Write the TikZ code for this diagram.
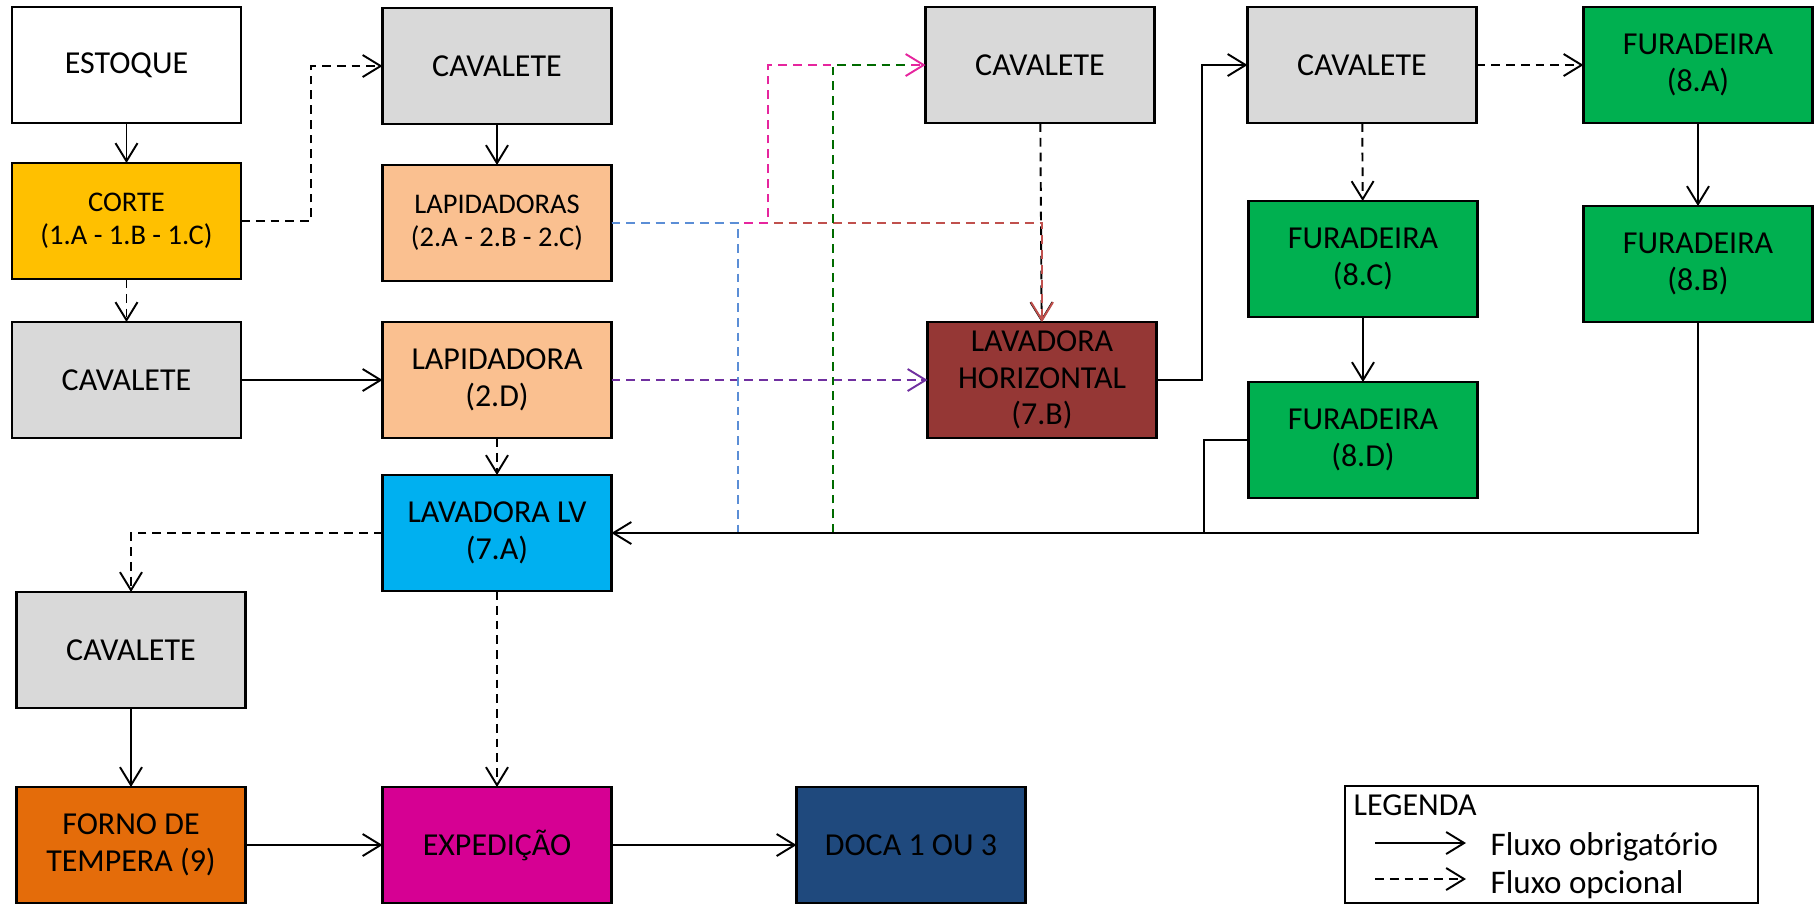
\documentclass[tikz,border=0pt]{standalone}
\usepackage{fontspec}
\setmainfont{Carlito}
\usetikzlibrary{arrows.meta}

\definecolor{cinza}{HTML}{D9D9D9}
\definecolor{ouro}{HTML}{FFC000}
\definecolor{pessego}{HTML}{FAC090}
\definecolor{vinho}{HTML}{953735}
\definecolor{ciano}{HTML}{00B0F0}
\definecolor{verdefur}{HTML}{00B050}
\definecolor{laranja}{HTML}{E46C0A}
\definecolor{magexp}{HTML}{D60093}
\definecolor{azuldoca}{HTML}{1F497D}
\definecolor{linrosa}{HTML}{E6259E}
\definecolor{linverde}{HTML}{006B00}
\definecolor{linazul}{HTML}{5B8ED6}
\definecolor{linverm}{HTML}{C0504D}
\definecolor{linroxo}{HTML}{7030A0}

\tikzset{
  caixa/.style={draw, line width=0.6pt, minimum width=2.29cm, minimum height=1.16cm,
    align=center, inner sep=1pt, outer sep=0pt, font=\fontsize{9.1}{10.4}\selectfont},
  caixap/.style={caixa, font=\fontsize{8.1}{9.4}\selectfont},
  obrig/.style={-{Straight Barb[length=1.8mm,width=2.2mm]}, line width=0.55pt},
  opc/.style={obrig, dash pattern=on 2.5pt off 1.7pt},
  linha/.style={line width=0.55pt},
  linhaopc/.style={line width=0.55pt, dash pattern=on 2.5pt off 1.7pt},
}

\begin{document}
\begin{tikzpicture}
    \useasboundingbox (0,0) rectangle (18.2,-9.05);

    % Caixas
    \node[caixa] (estoque) at (1.265,-0.65) {ESTOQUE};
    \node[caixap, fill=ouro] (corte) at (1.265,-2.21) {CORTE\\(1.A - 1.B - 1.C)};
    \node[caixa, fill=cinza] (cavA) at (1.265,-3.80) {CAVALETE};
    \node[caixa, fill=cinza] (cavB) at (4.97,-0.66) {CAVALETE};
    \node[caixap, fill=pessego] (lapidadoras) at (4.97,-2.23) {LAPIDADORAS\\(2.A - 2.B - 2.C)};
    \node[caixa, fill=pessego] (lapidadora) at (4.97,-3.80) {LAPIDADORA\\(2.D)};
    \node[caixa, fill=ciano] (lavLV) at (4.97,-5.33) {LAVADORA LV\\(7.A)};
    \node[caixa, fill=cinza] (cavE) at (1.31,-6.50) {CAVALETE};
    \node[caixa, fill=laranja] (forno) at (1.31,-8.45) {FORNO DE\\TEMPERA (9)};
    \node[caixa, fill=magexp] (expedicao) at (4.97,-8.45) {EXPEDIÇÃO};
    \node[caixa, fill=azuldoca] (doca) at (9.11,-8.45) {DOCA 1 OU 3};
    \node[caixa, fill=cinza] (cavC) at (10.40,-0.65) {CAVALETE};
    \node[caixa, fill=vinho] (lavH) at (10.42,-3.80) {LAVADORA\\HORIZONTAL\\(7.B)};
    \node[caixa, fill=cinza] (cavD) at (13.62,-0.65) {CAVALETE};
    \node[caixa, fill=verdefur] (fur8C) at (13.63,-2.59) {FURADEIRA\\(8.C)};
    \node[caixa, fill=verdefur] (fur8D) at (13.63,-4.40) {FURADEIRA\\(8.D)};
    \node[caixa, fill=verdefur] (fur8A) at (16.98,-0.65) {FURADEIRA\\(8.A)};
    \node[caixa, fill=verdefur] (fur8B) at (16.98,-2.64) {FURADEIRA\\(8.B)};

    % Pontos auxiliares
    \coordinate (jD) at (12.04,-5.33);
    \coordinate (jG) at (8.33,-5.33);
    \coordinate (jB) at (7.38,-5.33);

    % Fluxos da esquerda
    \draw[obrig] (estoque) -- (corte);
    \draw[opc] (corte) -- (cavA);
    \draw[opc] (corte.east) -- ++(0.70,0) |- (cavB.west);
    \draw[obrig] (cavB) -- (lapidadoras);
    \draw[obrig] (cavA) -- (lapidadora);
    \draw[opc] (lapidadora) -- (lavLV);
    \draw[opc, linroxo] (lapidadora) -- (lavH);

    % Fluxos coloridos das lapidadoras
    \draw[opc] (cavC) -- (lavH);
    \draw[opc, linverm] (lapidadoras.east) -| (lavH.north);
    \draw[opc, linrosa] (lapidadoras.east) -- ++(1.565,0) |- (cavC.west);
    \draw[linhaopc, linverde] (jG) |- ([xshift=-1.8mm]cavC.west);
    \draw[linhaopc, linazul] (lapidadoras.east) -| (jB);

    % Retornos para a lavadora LV
    \draw[obrig] (fur8B.south) |- (lavLV.east);
    \draw[linha] (fur8D.west) -| (jD);
    \draw[obrig] (lavH.east) -- ++(0.455,0) |- (cavD.west);
    \draw[opc] (cavD) -- (fur8A);
    \draw[opc] (cavD) -- (fur8C);
    \draw[obrig] (fur8C) -- (fur8D);
    \draw[obrig] (fur8A) -- (fur8B);

    % Saida
    \draw[opc] (lavLV.west) -| (cavE.north);
    \draw[opc] (lavLV) -- (expedicao);
    \draw[obrig] (cavE) -- (forno);
    \draw[obrig] (forno) -- (expedicao);
    \draw[obrig] (expedicao) -- (doca);

    % Legenda
    \node[draw, line width=0.6pt, minimum width=4.13cm, minimum height=1.17cm, outer sep=0pt] (legenda) at (15.515,-8.445) {};
    \node[anchor=base west, inner sep=0pt, font=\fontsize{9.1}{10}\selectfont] (legtit) at (13.53,-8.15) {LEGENDA};
    \coordinate (lo1) at (13.75,-8.43);
    \coordinate (lo2) at (14.66,-8.43);
    \coordinate (lp1) at (13.75,-8.79);
    \coordinate (lp2) at (14.66,-8.79);
    \draw[obrig] (lo1) -- (lo2);
    \draw[opc] (lp1) -- (lp2);
    \node[anchor=base west, inner sep=0pt, font=\fontsize{9.4}{10}\selectfont] (legobr) at (14.90,-8.55) {Fluxo obrigatório};
    \node[anchor=base west, inner sep=0pt, font=\fontsize{9.4}{10}\selectfont] (legopc) at (14.90,-8.93) {Fluxo opcional};
\end{tikzpicture}
\end{document}
